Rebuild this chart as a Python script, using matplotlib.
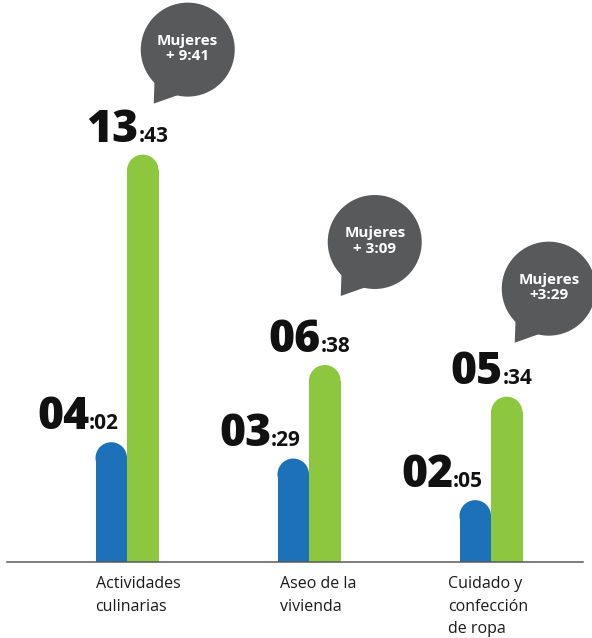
import matplotlib
matplotlib.use("Agg")
import matplotlib.pyplot as plt
from matplotlib.patches import Rectangle, Ellipse, Circle, Polygon
import matplotlib.transforms as mtransforms
import numpy as np

# ---------------- data ----------------
categories = ["Actividades\nculinarias", "Aseo de la\nvivienda", "Cuidado y\nconfección\nde ropa"]
hombres_min = [242, 209, 125]      # 04:02, 03:29, 02:05
mujeres_min = [823, 398, 334]      # 13:43, 06:38, 05:34
diferencia = ["+ 9:41", "+ 3:09", "+3:29"]

BLUE = "#1d71b8"
GREEN = "#8dc63f"
BUBBLE = "#58595b"
FONT = "Open Sans"

def hm(m):
    return f"{m // 60:02d}", f":{m % 60:02d}"

W_PX, H_PX = 592, 638
fig = plt.figure(figsize=(W_PX / 100, H_PX / 100), dpi=100)
ax = fig.add_axes([0, 0, 1, 1])
ax.axis("off")

# scale: pixels
x0_px, step_px = 127, 182          # pixel of category 0 centre, spacing
base_px = 76                        # baseline from bottom
s = 0.495                           # px per minute
ax.set_xlim(-x0_px / step_px, (W_PX - x0_px) / step_px)
ax.set_ylim(-base_px / s, (H_PX - base_px) / s)

bw = 31.5 / step_px                 # bar width (data)
ry = (31.5 / 2) / s                 # cap radius in minutes

def rounded_bar(xc, h, color):
    ax.add_patch(Rectangle((xc - bw / 2, 0), bw, h - ry, facecolor=color, edgecolor="none", zorder=2))
    ax.add_patch(Ellipse((xc, h - ry), bw, 2 * ry, facecolor=color, edgecolor="none", zorder=2))

PT = 0.72  # px -> points
x = np.arange(len(categories))
for i in x:
    xb = i - bw / 2
    xg = i + bw / 2
    rounded_bar(xb, hombres_min[i], BLUE)
    rounded_bar(xg, mujeres_min[i], GREEN)

    for xc, v, dx in ((xb, hombres_min[i], -22), (xg, mujeres_min[i], -4)):
        big, small = hm(v)
        ax.annotate(big, xy=(xc, v), xytext=(dx * PT, 13 * PT), textcoords="offset points",
                    ha="right", va="baseline", fontsize=32, fontweight=800,
                    family=FONT, color="#111111")
        ax.annotate(small, xy=(xc, v), xytext=(dx * PT, 13 * PT), textcoords="offset points",
                    ha="left", va="baseline", fontsize=15, fontweight="bold",
                    family=FONT, color="#111111")

# category labels
lab_dx = [0, 2, -11]
for i in x:
    ax.annotate(categories[i], xy=(i - bw, 0), xytext=(lab_dx[i] * PT, -14 * PT),
                textcoords="offset points", ha="left", va="top", fontsize=11.5,
                family=FONT, color="#1a1a1a", linespacing=1.55)

# baseline
ax.axhline(0, xmin=7 / W_PX, xmax=583 / W_PX, color="#5a5a5a", lw=1.1, zorder=3)

# speech bubbles anchored to green bar tops (offsets in px, y downwards)
bub_off = [(45, -105), (50, -123), (42, -108)]
R = 47
for i in x:
    xg = i + bw / 2
    trans = fig.dpi_scale_trans + mtransforms.ScaledTranslation(xg, mujeres_min[i], ax.transData)
    cx, cy = bub_off[i]
    def P(px, py):
        return ((cx + px) / 100, -(cy + py) / 100)
    ax.add_patch(Circle(P(0, 0), R / 100, transform=trans, facecolor=BUBBLE, edgecolor="none", zorder=4))
    a1, a2 = np.deg2rad(222), np.deg2rad(262)
    tail = [P(0.95 * R * np.cos(a1), -0.95 * R * np.sin(a1)), P(-34, 54),
            P(0.95 * R * np.cos(a2), -0.95 * R * np.sin(a2)), P(0, 0)]
    ax.add_patch(Polygon(tail, closed=True, transform=trans, facecolor=BUBBLE, edgecolor="none", zorder=4))
    tx, ty = P(0, -1)
    ax.text(tx, ty, "Mujeres\n" + diferencia[i], transform=trans, ha="center", va="center",
            fontsize=11, fontweight="bold", family=FONT, color="white",
            linespacing=1.1, zorder=5)

fig.savefig("out.png", dpi=100)
